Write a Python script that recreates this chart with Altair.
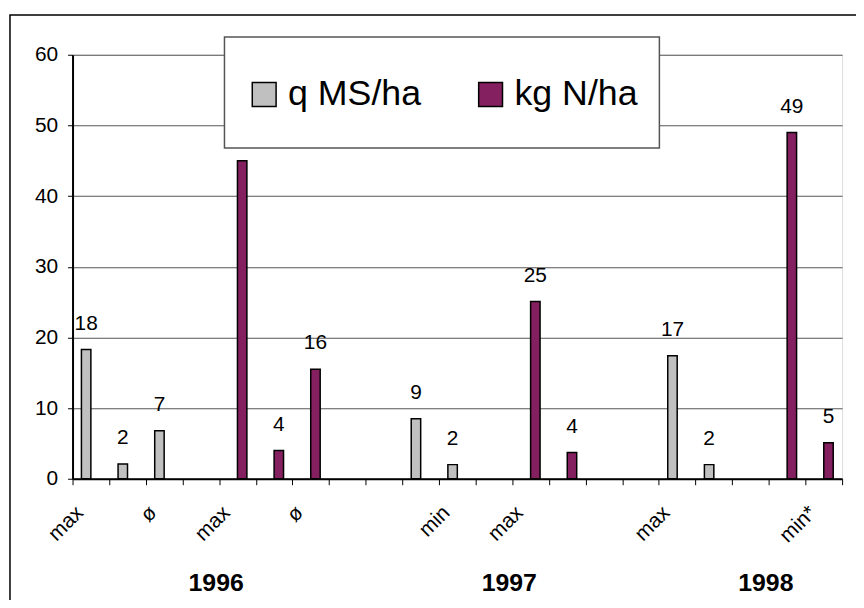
import json
import altair as alt
import pandas as pd

# ---- data ----
cat_labels = ["max", "", "ø", "", "max", "", "ø", "", "", "", "min", "", "max", "", "", "", "max", "", "", "", "min*"]
ms_values = [18.3, 2.1, 6.8, None, None, None, None, None, None, 8.5, 2.0, None, None, None, None, None, 17.4, 2.0, None, None, None]
n_values = [None, None, None, None, 45.0, 4.0, 15.5, None, None, None, None, None, 25.1, 3.7, None, None, None, None, None, 49.0, 5.1]
ms_labels = ["18", "2", "7", "", "", "", "", "", "", "9", "2", "", "", "", "", "", "17", "2", "", "", ""]
n_labels = ["", "", "", "", "", "4", "16", "", "", "", "", "", "25", "4", "", "", "", "", "", "49", "5"]
series_names = ["q MS/ha", "kg N/ha"]
series_colors = ["#C0C0C0", "#84205F"]
year_names = ["1996", "1997", "1998"]
year_cats = [4, 12, 19]
y_ticks = [0, 10, 20, 30, 40, 50, 60]

cats = list(range(len(cat_labels)))
rows = []
for i in cats:
    if ms_values[i] is not None:
        rows.append({"cat": i, "series": series_names[0], "value": ms_values[i], "label": ms_labels[i]})
    if n_values[i] is not None:
        rows.append({"cat": i, "series": series_names[1], "value": n_values[i], "label": n_labels[i]})
df = pd.DataFrame(rows)
years = pd.DataFrame({"cat": year_cats, "year": year_names})

FONT = "Liberation Sans"
label_expr = json.dumps(cat_labels, ensure_ascii=False) + "[datum.value]"

x_enc = alt.X(
    "cat:O",
    scale=alt.Scale(domain=cats, paddingInner=0, paddingOuter=0),
    axis=alt.Axis(
        title=None, tickBand="extent", labelExpr=label_expr, labelAngle=-45,
        labelAlign="right", labelBaseline="top", labelPadding=17, labelOffset=-19,
        labelFontSize=21, labelFont=FONT, labelColor="#000", tickColor="#000",
        tickSize=6, tickWidth=1, domainColor="#000", domainWidth=2, grid=False,
        labelOverlap=False,
    ),
)
y_enc = alt.Y(
    "value:Q",
    scale=alt.Scale(domain=[0, 60], nice=False),
    axis=alt.Axis(
        title=None, values=y_ticks, labelFontSize=21, labelFont=FONT, labelColor="#000",
        tickColor="#000", tickSize=5, labelPadding=10, domainColor="#000", domainWidth=2,
        grid=True, gridColor="#555", gridWidth=1,
    ),
)
xoff = alt.XOffset("series:N", scale=alt.Scale(domain=series_names, paddingInner=0, paddingOuter=0.94))

one_row = "datum.cat == 0 && datum.series == 'q MS/ha'"

outer = alt.Chart(df).mark_rect(fill=None, stroke="#000", strokeWidth=1.5).encode(
    x=alt.value(-63), x2=alt.value(3000), y=alt.value(-40), y2=alt.value(3000)
).transform_filter(one_row)

legend_box = alt.Chart(df).mark_rect(fill="#fff", stroke="#555", strokeWidth=1.5).encode(
    x=alt.value(153), x2=alt.value(591), y=alt.value(-18), y2=alt.value(94)
).transform_filter(one_row)

bars = alt.Chart(df).mark_bar(stroke="#000", strokeWidth=1.5).encode(
    x=x_enc,
    xOffset=xoff,
    y=y_enc,
    color=alt.Color(
        "series:N",
        scale=alt.Scale(domain=series_names, range=series_colors),
        legend=alt.Legend(
            title=None, orient="none", legendX=175, legendY=22, direction="horizontal",
            symbolType="square", symbolSize=576, symbolStrokeColor="#000", symbolStrokeWidth=1.5,
            labelFontSize=36, labelFont=FONT, labelColor="#000", labelOffset=6,
            columnPadding=51, padding=0,
        ),
    ),
)

values = alt.Chart(df).mark_text(
    baseline="alphabetic", dy=-20, fontSize=21, font=FONT, color="#000"
).encode(x=x_enc, xOffset=xoff, y=y_enc, text="label:N")

year_text = alt.Chart(years).mark_text(
    baseline="middle", fontSize=25, font=FONT, fontWeight="bold", color="#000", dx=-3
).encode(
    x=alt.X("cat:O", bandPosition=0),
    y=alt.value(532),
    text="year:N",
)

chart = alt.layer(outer, legend_box, bars, values, year_text).properties(
    width=775, height=427,
    autosize=alt.AutoSizeParams(type="none"),
    padding={"left": 65, "top": 45, "right": 14, "bottom": 120},
).configure_view(stroke="#222", strokeWidth=1.5).configure(background="#fff")

chart.save("out.html", embed_options={"renderer": "svg", "actions": False})
